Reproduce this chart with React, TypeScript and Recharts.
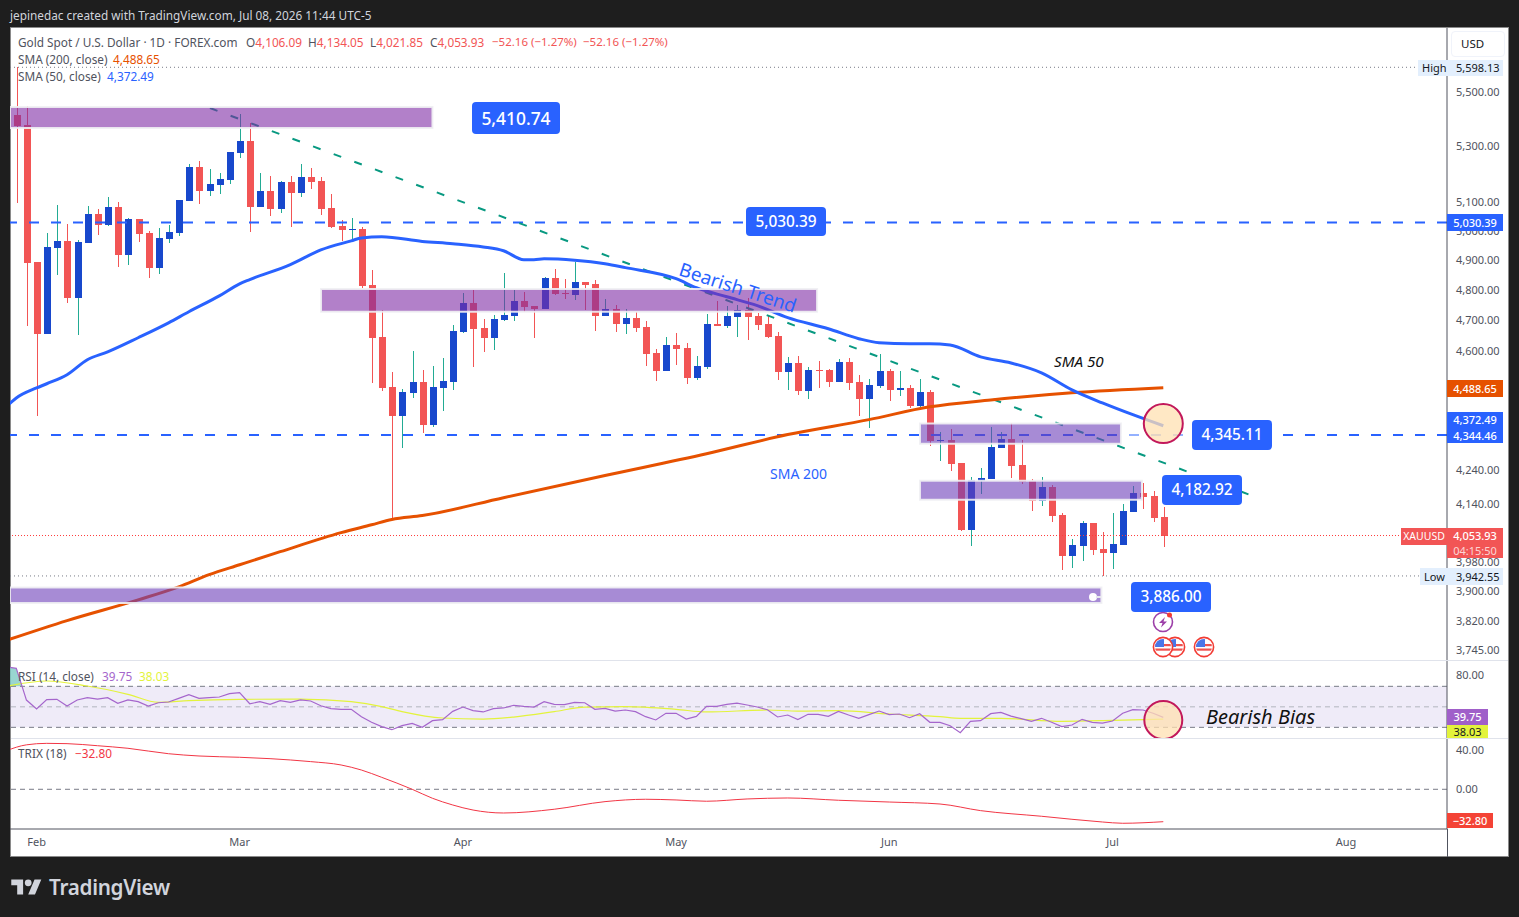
import React from 'react';
import {
  Area,
  Bar,
  ComposedChart,
  Line,
  ReferenceArea,
  ReferenceDot,
  ReferenceLine,
  XAxis,
  YAxis,
} from 'recharts';

// XAUUSD daily, Jan 29 to Jul 8 (index 0 is Jan 29)
const opens = [
  5417, 5380, 4896, 4659, 4943, 4967, 4776, 4960, 5061, 5023, 5085, 4919, 5043, 4995, 4876, 4974, 4995, 5105, 5227,
  5141, 5163, 5181, 5277, 5321, 5085, 5141, 5078, 5173, 5134, 5191, 5177, 5081, 5019, 5005, 5009, 4819, 4649, 4491,
  4403, 4473, 4507, 4376, 4488, 4507, 4665, 4759, 4678, 4646, 4704, 4717, 4766, 4750, 4740, 4842, 4792, 4786, 4829,
  4822, 4717, 4740, 4691, 4711, 4682, 4598, 4541, 4623, 4613, 4520, 4554, 4691, 4685, 4714, 4737, 4717, 4691, 4652,
  4538, 4566, 4479, 4545, 4545, 4507, 4570, 4507, 4454, 4495, 4541, 4482, 4488, 4433, 4476, 4328, 4331, 4263, 4070,
  4210, 4216, 4307, 4334, 4257, 4210, 4152, 4193, 4113, 3998, 4025, 4090, 4017, 4006, 4028, 4121, 4175, 4167, 4106.09,
];
const highs = [
  5598, 5451, 4896, 4995, 5092, 5026, 4971, 5088, 5078, 5120, 5102, 5047, 5043, 5002, 5012, 5023, 5109, 5238, 5249,
  5220, 5206, 5281, 5421, 5388, 5206, 5195, 5177, 5195, 5238, 5224, 5191, 5130, 5040, 5047, 5016, 4869, 4737, 4538,
  4485, 4604, 4545, 4557, 4582, 4688, 4792, 4802, 4707, 4720, 4859, 4802, 4796, 4750, 4846, 4873, 4839, 4896, 4829,
  4836, 4772, 4753, 4740, 4730, 4701, 4610, 4649, 4662, 4630, 4588, 4724, 4766, 4750, 4753, 4776, 4727, 4720, 4665,
  4585, 4588, 4554, 4573, 4548, 4579, 4582, 4529, 4516, 4595, 4548, 4541, 4498, 4516, 4482, 4355, 4364, 4263, 4222,
  4248, 4370, 4355, 4382, 4331, 4216, 4222, 4199, 4116, 4045, 4096, 4090, 4065, 4116, 4144, 4196, 4204, 4181, 4134.05,
];
const lows = [
  5099, 4685, 4403, 4659, 4852, 4759, 4656, 4960, 4988, 5019, 4879, 4886, 4964, 4842, 4856, 4960, 4984, 5105, 5095,
  5123, 5130, 5166, 5259, 4998, 5085, 5054, 5064, 5016, 5120, 5148, 5057, 5012, 4967, 4974, 4809, 4504, 4479, 4099,
  4307, 4457, 4352, 4370, 4418, 4482, 4662, 4554, 4601, 4607, 4701, 4701, 4730, 4646, 4740, 4786, 4772, 4769, 4737,
  4669, 4717, 4665, 4659, 4665, 4557, 4510, 4541, 4560, 4501, 4513, 4548, 4685, 4678, 4649, 4640, 4672, 4646, 4513,
  4482, 4467, 4454, 4488, 4491, 4507, 4482, 4403, 4367, 4488, 4448, 4464, 4427, 4424, 4313, 4269, 4237, 4067, 4025,
  4172, 4216, 4307, 4219, 4201, 4124, 4138, 4093, 3960, 3965, 3984, 4000, 3942.55, 3962, 4028, 4121, 4130, 4093,
  4021.85,
];
const closes = [
  5377, 4893, 4659, 4946, 4967, 4776, 4964, 5061, 5023, 5085, 4919, 5043, 4991, 4876, 4977, 4998, 5109, 5227, 5141,
  5166, 5184, 5281, 5321, 5085, 5141, 5078, 5173, 5134, 5191, 5173, 5078, 5016, 5005, 5009, 4816, 4646, 4488, 4403,
  4476, 4507, 4376, 4491, 4510, 4669, 4759, 4675, 4646, 4707, 4720, 4766, 4746, 4740, 4842, 4789, 4789, 4829, 4819,
  4717, 4740, 4691, 4711, 4678, 4595, 4541, 4623, 4610, 4520, 4557, 4691, 4685, 4717, 4737, 4714, 4688, 4649, 4538,
  4566, 4479, 4545, 4541, 4507, 4570, 4504, 4454, 4498, 4541, 4482, 4488, 4433, 4476, 4328, 4331, 4260, 4070, 4213,
  4219, 4310, 4334, 4254, 4207, 4152, 4193, 4110, 3998, 4028, 4090, 4014, 4006, 4031, 4124, 4175, 4164, 4104, 4053.93,
];

const sma50Days = [
  -1, 0, 2, 3, 5, 7, 9, 12, 15, 17, 20, 22, 23, 27, 30, 33, 34, 36, 40, 43, 46, 48, 50, 51, 52, 55, 58, 60, 65, 67, 70,
  73, 76, 80, 83, 85, 88, 90, 92, 95, 98, 101, 104, 107, 110, 113,
];
const sma50Values = [
  4430, 4457, 4488, 4501, 4529, 4576, 4601, 4646, 4694, 4730, 4782, 4822, 4836, 4886, 4936, 4967, 4977, 4981, 4965,
  4957, 4946, 4933, 4903, 4903, 4906, 4901, 4889, 4876, 4839, 4809, 4779, 4750, 4711, 4675, 4643, 4630, 4627, 4627,
  4623, 4585, 4566, 4535, 4482, 4442, 4406, 4372.49,
];
const sma200Days = [-1, 5, 12, 16, 19, 22, 26, 32, 35, 37, 40, 48, 58, 68, 76, 84, 90, 96, 104, 113];
const sma200Values = [
  3771, 3823, 3878, 3913, 3946, 3973, 4009, 4062, 4084, 4099, 4110, 4161, 4225, 4289, 4346, 4391, 4430, 4451, 4473,
  4488.65,
];

const rsiValues = [
  87.5, 56.6, 47.9, 57, 57.3, 50.8, 56.7, 58.9, 57.6, 58.9, 53.4, 56.7, 55, 50.8, 54, 54.7, 58.3, 61.9, 58.3, 58.9,
  59.6, 62.8, 63.8, 53, 55, 52.4, 56, 54.4, 56.7, 55.7, 51.1, 48.2, 47.6, 47.6, 40.4, 34.9, 30.7, 27.7, 31.6, 33.9, 30,
  36.5, 37.5, 45.6, 49.8, 46.3, 45, 48.2, 48.9, 51.5, 50.5, 49.8, 55, 52.4, 52.1, 54.4, 54, 47.6, 48.5, 45.9, 46.9,
  45.3, 40.4, 37.2, 43.7, 43.7, 38.1, 40.7, 50.5, 50.5, 52.4, 53.7, 51.8, 49.8, 47.2, 40.1, 42, 37.5, 42.7, 42.7, 40.7,
  45.6, 42, 38.8, 42.4, 45.9, 42.4, 43, 39.4, 43.3, 34.9, 34.9, 31.6, 24.8, 35.9, 36.5, 43.3, 44.6, 41, 38.5, 35.9,
  38.8, 34.9, 30.7, 32.3, 37.8, 34.9, 34.2, 36.2, 43.7, 47.2, 46.9, 43.7, 39.75,
];
const rsiMaDays = [
  -1, 3, 7, 11, 14, 17, 22, 28, 33, 36, 38, 42, 46, 49, 53, 56, 60, 65, 68, 74, 77, 81, 86, 91, 93, 97, 103, 108, 113,
];
const rsiMaValues = [
  70, 75.2, 70.3, 62.2, 54.4, 56, 57.3, 57.6, 55, 50.2, 45.3, 39.1, 38.1, 40, 45.3, 49.8, 50.2, 47.6, 45, 46.9, 45.9,
  46.3, 43, 40.4, 38.8, 38.8, 35.9, 36.8, 38.03,
];

const trixDays = [
  -1, 1, 3, 5, 8, 11, 15, 18, 22, 25, 29, 32, 34, 36, 39, 41, 43, 45, 48, 53, 58, 62, 65, 68, 72, 76, 81, 86, 91, 95,
  101, 107, 109, 113,
];
const trixValues = [
  39, 45, 46.5, 46.2, 44.1, 41.5, 36, 33.7, 32.4, 31, 28, 24.6, 19.5, 12.1, 0, -9.1, -15.9, -21, -24, -20.2, -12.5,
  -10.1, -10.8, -12.1, -9.8, -8.8, -11.1, -12.9, -14.9, -21.6, -27.3, -33.1, -34.4, -32.8,
];

const priceTicks = [5500, 5300, 5100, 5000, 4900, 4800, 4700, 4600, 4240, 4140, 3980, 3900, 3820, 3745];
const rsiTicks = [80];
const trixTicks = [40, 0];
const monthDays = [2, 22, 44, 65, 86, 108, 131];
const monthNames = ['Feb', 'Mar', 'Apr', 'May', 'Jun', 'Jul', 'Aug'];

// supply / demand boxes: first day, last day, top price, bottom price
const zoneStarts = [-0.62, 30.02, 89.03, 89.03, -0.62];
const zoneEnds = [41, 78.89, 108.83, 110.9, 106.9];
const zoneTops = [5447, 4805, 4379, 4210, 3911];
const zoneBottoms = [5369, 4730, 4319, 4155, 3870];
const zoneColors = ['#7f2ba5', '#7f2ba5', '#6c3eb9', '#6c3eb9', '#6c3eb9'];

const xDomain: [number, number] = [-0.62, 140.95];
const priceDomain: [number, number] = [3720.6, 5751.8];
const rsiDomain: [number, number] = [19.6, 94.7];
const trixDomain: [number, number] = [-40.2, 50.9];

const UP = '#1848cc';
const DOWN = '#f25555';
const WICK_UP = '#22ab94';
const BLUE = '#2962ff';
const ORANGE = '#e65100';
const AXIS = '#50535e';
const FONT = '"Noto Sans", sans-serif';
const LEGEND = 11.8;

const byDay = (days: number[], values: number[], day: number) => {
  const i = days.indexOf(day);
  return i < 0 ? null : values[i];
};

const dayList = Array.from({ length: 115 }, (_, i) => i - 1);

const priceRows = dayList.map((idx) => ({
  idx,
  open: idx < 0 ? null : opens[idx],
  high: idx < 0 ? null : highs[idx],
  low: idx < 0 ? null : lows[idx],
  close: idx < 0 ? null : closes[idx],
  range: idx < 0 ? null : [lows[idx], highs[idx]],
  sma50: byDay(sma50Days, sma50Values, idx),
  sma200: byDay(sma200Days, sma200Values, idx),
}));

const rsiRows = [
  { idx: -1, rsi: 89, rsiMa: 70, over: [70, 89] },
  { idx: 0, rsi: rsiValues[0], rsiMa: null, over: [70, rsiValues[0]] },
  { idx: 0.57, rsi: 70, rsiMa: null, over: [70, 70] },
  ...rsiValues.slice(1).map((rsi, i) => ({
    idx: i + 1,
    rsi,
    rsiMa: byDay(rsiMaDays, rsiMaValues, i + 1),
    over: null,
  })),
];

const trixRows = trixDays.map((idx, i) => ({ idx, trix: trixValues[i] }));

function Candle(props: any) {
  const { x, y, width, height, payload } = props;
  if (payload.high == null || !(height > 0)) return null;
  const cx = Math.round(x + width / 2);
  const span = Math.log(payload.high / payload.low);
  const at = (p: number) => y + (height * Math.log(payload.high / p)) / span;
  const top = at(Math.max(payload.open, payload.close));
  const bottom = at(Math.min(payload.open, payload.close));
  const up = payload.close >= payload.open;
  return (
    <g shapeRendering="crispEdges">
      <rect x={cx} y={y} width={1} height={height} fill={up ? WICK_UP : DOWN} />
      <rect x={cx - 3} y={top} width={7} height={Math.max(bottom - top, 1)} fill={up ? UP : DOWN} />
    </g>
  );
}

const hiddenX = (
  <XAxis dataKey="idx" type="number" domain={xDomain} allowDataOverflow hide />
);

function priceAxis(ticks: number[], domain: [number, number], log: boolean, shift: number) {
  return (
    <YAxis
      orientation="right"
      type="number"
      width={61}
      domain={domain}
      allowDataOverflow
      scale={log ? 'log' : 'linear'}
      ticks={ticks}
      interval={0}
      tickLine={false}
      tickMargin={3}
      axisLine={{ stroke: AXIS }}
      tick={{ fontSize: 11, fill: AXIS, fontFamily: FONT, dy: shift }}
      tickFormatter={money}
    />
  );
}

const money = (v: number) => v.toLocaleString('en-US', { minimumFractionDigits: 2, maximumFractionDigits: 2 });

function Abs({ x, y, w, h, bg, color, size, align, children, style }: any) {
  return (
    <div
      style={{
        position: 'absolute',
        left: x,
        top: y,
        width: w,
        height: h,
        lineHeight: h ? `${h}px` : undefined,
        background: bg,
        color,
        fontSize: size ?? 11,
        textAlign: align ?? 'left',
        whiteSpace: 'nowrap',
        ...style,
      }}
    >
      {children}
    </div>
  );
}

function Badge({ x, y, w, h, size, children }: any) {
  return (
    <Abs x={x} y={y} w={w} h={h} bg={BLUE} color="#fff" size={size ?? 15.4} align="center" style={{ borderRadius: 4, fontWeight: 500 }}>
      {children}
    </Abs>
  );
}

function Flag({ x, y }: any) {
  return (
    <svg style={{ position: 'absolute', left: x - 11, top: y - 11 }} width={22} height={22} viewBox="0 0 22 22">
      <circle cx={11} cy={11} r={9.6} fill="#fff" stroke="#f23c34" strokeWidth={1.6} />
      <clipPath id={`c${x}`}>
        <circle cx={11} cy={11} r={8} />
      </clipPath>
      <g clipPath={`url(#c${x})`}>
        <rect x={3} y={3} width={16} height={16} fill="#fff" />
        <rect x={3} y={8} width={16} height={2.2} fill="#ef5350" />
        <rect x={3} y={12.5} width={16} height={2.2} fill="#ef5350" />
        <rect x={3} y={3} width={9} height={8} fill="#4a76e8" />
      </g>
    </svg>
  );
}

export default function App() {
  return (
    <div style={{ position: 'absolute', left: 0, top: 0, width: 1519, height: 917, background: '#1e1e1e', overflow: 'hidden', fontFamily: FONT }}>
      <style>{'body{margin:0}'}</style>
      <Abs x={10} y={6} h={18} color="#d1d4dc" size={11.8} style={{ lineHeight: '18px' }}>
        jepinedac created with TradingView.com, Jul 08, 2026 11:44 UTC-5
      </Abs>
      <div style={{ position: 'absolute', left: 10, top: 27, width: 1499, height: 830, background: '#fff', boxShadow: 'inset 0 0 0 1px #8a8a8a' }} />
      <div style={{ position: 'absolute', left: 11, top: 660, width: 1497, height: 1, background: '#e0e3eb' }} />
      <div style={{ position: 'absolute', left: 11, top: 738, width: 1497, height: 1, background: '#e0e3eb' }} />
      <div style={{ position: 'absolute', left: 1447, top: 829, width: 1, height: 28, background: AXIS }} />

      {/* candles, averages and level lines */}
      <div style={{ position: 'absolute', left: 10, top: 28 }}>
        <ComposedChart width={1498} height={632} data={priceRows} margin={{ top: 0, right: 0, bottom: 0, left: 0 }}>
          {hiddenX}
          {priceAxis(priceTicks, priceDomain, true, -0.6)}
          <ReferenceLine y={5598.13} stroke="#787b86" strokeDasharray="1 3" />
          <ReferenceLine y={3942.55} stroke="#787b86" strokeDasharray="1 3" />
          <ReferenceLine y={4053.93} stroke="#ff3b3b" strokeDasharray="1 2" />
          <Bar dataKey="range" barSize={7} shape={Candle} isAnimationActive={false} />
          <ReferenceLine y={5030.39} stroke={BLUE} strokeWidth={2} strokeDasharray="10 12" />
          <ReferenceLine y={4344.46} stroke={BLUE} strokeWidth={2} strokeDasharray="10 12" />
          <ReferenceLine
            segment={[
              { x: 19.08, y: 5443 },
              { x: 121.45, y: 4170 },
            ]}
            stroke="#089981"
            strokeWidth={2}
            strokeDasharray="8 14"
          />
          <Line type="monotone" dataKey="sma200" stroke={ORANGE} strokeWidth={3} dot={false} connectNulls isAnimationActive={false} />
          <Line type="monotone" dataKey="sma50" stroke={BLUE} strokeWidth={3} dot={false} connectNulls isAnimationActive={false} />
        </ComposedChart>
      </div>

      {/* boxes and circle sit above the candles */}
      <div style={{ position: 'absolute', left: 10, top: 28 }}>
        <ComposedChart width={1437} height={632} data={priceRows} margin={{ top: 0, right: 0, bottom: 0, left: 0 }}>
          {hiddenX}
          <YAxis orientation="right" hide domain={priceDomain} allowDataOverflow scale="log" />
          {zoneStarts.map((start, i) => (
            <ReferenceArea
              key={i}
              x1={start}
              x2={zoneEnds[i]}
              y1={zoneBottoms[i]}
              y2={zoneTops[i]}
              fill={zoneColors[i]}
              fillOpacity={0.6}
              stroke="#f0f0f3"
              strokeWidth={2}
              strokeOpacity={0.9}
            />
          ))}
          <ReferenceLine
            segment={[
              { x: 108.9, y: 4344.46 },
              { x: 116.7, y: 4344.46 },
            ]}
            stroke="#fff"
            strokeWidth={2.5}
            strokeOpacity={0.5}
          />
          <ReferenceDot x={113} y={4379} r={19.5} fill="#ffe0b2" fillOpacity={0.75} stroke="#c2185b" strokeWidth={2} />
        </ComposedChart>
      </div>

      {/* RSI */}
      <div style={{ position: 'absolute', left: 10, top: 661 }}>
        <ComposedChart width={1498} height={77} data={rsiRows} margin={{ top: 0, right: 0, bottom: 0, left: 0 }}>
          {hiddenX}
          {priceAxis(rsiTicks, rsiDomain, false, -1)}
          <ReferenceArea y1={30} y2={70} fill="#7e57c2" fillOpacity={0.12} stroke="none" />
          <ReferenceLine y={70} stroke="#787b86" strokeDasharray="5 4" />
          <ReferenceLine y={50} stroke="#b2b5be" strokeDasharray="5 4" />
          <ReferenceLine y={30} stroke="#787b86" strokeDasharray="5 4" />
          <Area dataKey="over" stroke="none" fill="#80cbc4" fillOpacity={0.8} isAnimationActive={false} />
          <Line type="monotone" dataKey="rsiMa" stroke="#e3f33c" strokeWidth={1.2} dot={false} connectNulls isAnimationActive={false} />
          <Line dataKey="rsi" stroke="#a566cc" strokeWidth={1.2} dot={false} connectNulls isAnimationActive={false} />
          <ReferenceDot x={113} y={37.1} r={19} fill="#ffe0b2" fillOpacity={0.75} stroke="#c2185b" strokeWidth={2} />
        </ComposedChart>
      </div>

      {/* TRIX with the time axis under it */}
      <div style={{ position: 'absolute', left: 10, top: 739 }}>
        <ComposedChart width={1498} height={118} data={trixRows} margin={{ top: 0, right: 0, bottom: 0, left: 0 }}>
          <XAxis
            dataKey="idx"
            type="number"
            domain={xDomain}
            allowDataOverflow
            ticks={monthDays}
            interval={0}
            height={28}
            tickLine={false}
            tickMargin={3}
            axisLine={{ stroke: AXIS }}
            tick={{ fontSize: 11, fill: AXIS, fontFamily: FONT }}
            tickFormatter={(v: number) => monthNames[monthDays.indexOf(v)]}
          />
          {priceAxis(trixTicks, trixDomain, false, 0)}
          <ReferenceLine y={0} stroke="#787b86" strokeDasharray="5 4" />
          <Line type="monotone" dataKey="trix" stroke="#f23645" strokeWidth={1} dot={false} isAnimationActive={false} />
        </ComposedChart>
      </div>

      {/* legends */}
      <Abs x={18} y={34} h={16} color={AXIS} size={LEGEND}>
        Gold Spot / U.S. Dollar · 1D · FOREX.com
      </Abs>
      {[
        ['O', '4,106.09', 246],
        ['H', '4,134.05', 308],
        ['L', '4,021.85', 370],
        ['C', '4,053.93', 430],
      ].map(([k, v, x]) => (
        <Abs key={k as string} x={x} y={34} h={16} color={AXIS} size={LEGEND}>
          {k}
          <span style={{ color: DOWN }}>{v}</span>
        </Abs>
      ))}
      <Abs x={492} y={34} h={16} color={DOWN} size={11.5}>−52.16 (−1.27%)</Abs>
      <Abs x={583} y={34} h={16} color={DOWN} size={11.5}>−52.16 (−1.27%)</Abs>
      <Abs x={18} y={51} h={16} color={AXIS} size={LEGEND}>SMA (200, close)</Abs>
      <Abs x={113} y={51} h={16} color={ORANGE} size={LEGEND}>4,488.65</Abs>
      <Abs x={18} y={68} h={16} color={AXIS} size={LEGEND}>SMA (50, close)</Abs>
      <Abs x={107} y={68} h={16} color={BLUE} size={LEGEND}>4,372.49</Abs>
      <Abs x={18} y={668} h={16} color={AXIS} size={LEGEND}>RSI (14, close)</Abs>
      <Abs x={102} y={668} h={16} color="#a566cc" size={LEGEND}>39.75</Abs>
      <Abs x={139} y={668} h={16} color="#e3f33c" size={LEGEND}>38.03</Abs>
      <Abs x={18} y={745} h={16} color={AXIS} size={LEGEND}>TRIX (18)</Abs>
      <Abs x={75} y={745} h={16} color="#f23645" size={LEGEND}>−32.80</Abs>

      {/* drawn notes */}
      <Badge x={472} y={102} w={88} h={32} size={17.4}>5,410.74</Badge>
      <Badge x={746} y={207} w={80} h={29}>5,030.39</Badge>
      <Badge x={1192} y={420} w={80} h={30}>4,345.11</Badge>
      <Badge x={1162} y={475} w={80} h={30}>4,182.92</Badge>
      <Badge x={1131} y={582} w={80} h={30}>3,886.00</Badge>
      <Abs x={677} y={274} color={BLUE} size={18.8} style={{ transform: 'rotate(18deg)', transformOrigin: '60px 13px' }}>
        Bearish Trend
      </Abs>
      <Abs x={1054} y={351} color="#111" size={15.2} style={{ fontStyle: 'italic' }}>SMA 50</Abs>
      <Abs x={770} y={464} color={BLUE} size={14}>SMA 200</Abs>
      <Abs x={1206} y={703} color="#111" size={20} style={{ fontStyle: 'italic' }}>Bearish Bias</Abs>
      <div style={{ position: 'absolute', left: 1089, top: 593, width: 8, height: 8, borderRadius: 4, background: '#fff' }} />
      <div style={{ position: 'absolute', left: 1096, top: 596, width: 5, height: 2, background: '#e8e8ee' }} />

      {/* event icons */}
      <svg style={{ position: 'absolute', left: 1152, top: 611 }} width={22} height={22} viewBox="0 0 22 22">
        <circle cx={11} cy={11} r={9.5} fill="#fff" stroke="#9c3fa8" strokeWidth={1.6} />
        <path d="M13 6 L7 12 L10.5 12 L9 16.5 L15 10.5 L11.5 10.5 Z" fill="#9c3fa8" />
        <circle cx={17.5} cy={4} r={2.5} fill="#f23c34" />
      </svg>
      <Flag x={1175} y={647} />
      <Flag x={1163} y={647} />
      <Flag x={1204} y={647} />

      {/* price scale tags */}
      <Abs x={1451} y={31} w={54} h={26} color="#131722" size={11.5} style={{ boxSizing: 'border-box', border: '1px solid #f0f3fa', borderRadius: 4, paddingLeft: 9, lineHeight: '24px' }}>USD</Abs>
      <Abs x={1418} y={60} w={85} h={16} bg="#e3effd" color="#131722" style={{ paddingLeft: 4, boxSizing: 'border-box' }}>High</Abs>
      <Abs x={1456} y={60} h={16} color="#131722">5,598.13</Abs>
      <Abs x={1447} y={214} w={56} h={17} bg={BLUE} color="#fff" align="center" style={{ fontWeight: 500 }}>5,030.39</Abs>
      <Abs x={1447} y={380} w={56} h={17} bg={ORANGE} color="#fff" align="center" style={{ fontWeight: 500 }}>4,488.65</Abs>
      <Abs x={1447} y={412} w={56} h={16} bg={BLUE} color="#fff" align="center" style={{ fontWeight: 500 }}>4,372.49</Abs>
      <Abs x={1447} y={428} w={56} h={15} bg={BLUE} color="#fff" align="center" style={{ fontWeight: 500 }}>4,344.46</Abs>
      <Abs x={1401} y={528} w={46} h={17} bg={DOWN} color="#fff" align="center" size={10.5}>XAUUSD</Abs>
      <Abs x={1447} y={528} w={56} h={16} bg={DOWN} color="#fff" align="center" style={{ fontWeight: 500 }}>4,053.93</Abs>
      <Abs x={1447} y={544} w={56} h={14} bg={DOWN} color="#fcd5d5" align="center">04:15:50</Abs>
      <Abs x={1420} y={568} w={83} h={17} bg="#e3effd" color="#131722" style={{ paddingLeft: 4, boxSizing: 'border-box' }}>Low</Abs>
      <Abs x={1456} y={568} h={17} color="#131722">3,942.55</Abs>
      <Abs x={1447} y={709} w={41} h={16} bg="#a05fc9" color="#fff" align="center" style={{ fontWeight: 500 }}>39.75</Abs>
      <Abs x={1447} y={725} w={41} h={13} bg="#e3f33c" color="#131722" align="center">38.03</Abs>
      <Abs x={1447} y={813} w={46} h={15} bg="#f44336" color="#fff" align="center" style={{ fontWeight: 500 }}>−32.80</Abs>

      {/* footer logo */}
      <svg style={{ position: 'absolute', left: 11, top: 876 }} width={31} height={22} viewBox="0 0 36 26">
        <path d="M14 22H7V11H0V4h14v18zM28 22h-8l7.5-18h8L28 22z" fill="#d1d4dc" />
        <circle cx={20} cy={8} r={4} fill="#d1d4dc" />
      </svg>
      <Abs x={49} y={873} h={28} color="#d1d4dc" size={20.7} style={{ fontWeight: 600, letterSpacing: -0.3 }}>TradingView</Abs>
    </div>
  );
}
